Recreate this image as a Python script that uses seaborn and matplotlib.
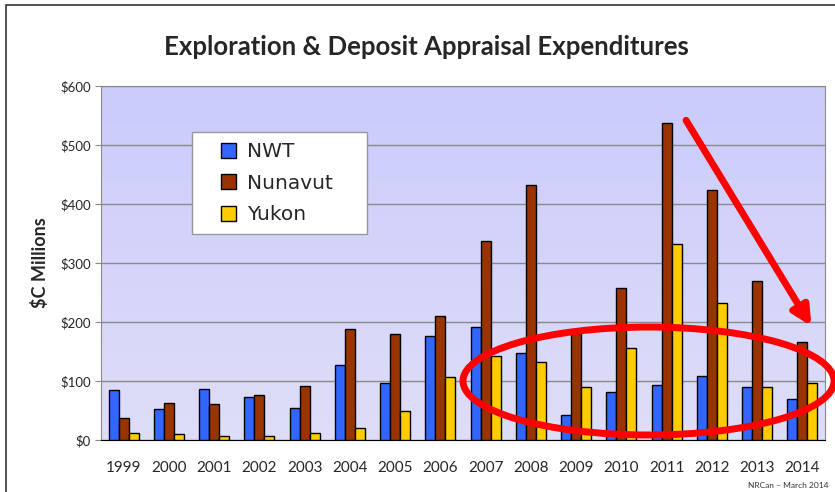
"""
Exploration & Deposit Appraisal Expenditures - NWT / Nunavut / Yukon
"""

import numpy as np
import pandas as pd
import matplotlib
matplotlib.use("Agg")
import matplotlib.pyplot as plt
from matplotlib.colors import LinearSegmentedColormap
from matplotlib.patches import Ellipse, Rectangle
from matplotlib.ticker import FuncFormatter, FixedLocator
import seaborn as sns

# ── Data ───────────────────────────────────────────────────────────────────────

years   = ["1999", "2000", "2001", "2002", "2003", "2004", "2005", "2006",
           "2007", "2008", "2009", "2010", "2011", "2012", "2013", "2014"]
nwt     = [84, 52, 87, 73, 54, 127, 97, 176, 192, 147, 42, 81, 93, 109, 90, 70]
nunavut = [38, 63, 61, 76, 92, 188, 179, 210, 337, 433, 187, 257, 537, 423, 269, 166]
yukon   = [12, 10, 6, 6, 12, 21, 49, 106, 143, 133, 90, 156, 332, 233, 90, 97]

regions = ["NWT", "Nunavut", "Yukon"]
colors  = {"NWT": "#3366FF", "Nunavut": "#993300", "Yukon": "#FFCC00"}

df = pd.DataFrame({"year": years, "NWT": nwt, "Nunavut": nunavut, "Yukon": yukon})
long = df.melt(id_vars="year", var_name="region", value_name="spend")

# ── Plot ───────────────────────────────────────────────────────────────────────

sns.set_style("white")
plt.rcParams["font.family"] = ["Lato", "DejaVu Sans"]

fig = plt.figure(figsize=(8.35, 4.92), dpi=100)
ax = fig.add_axes([0.121, 0.1057, 0.867, 0.7193])

sns.barplot(data=long, x="year", y="spend", hue="region", hue_order=regions,
            palette=colors, width=0.66, edgecolor="black", linewidth=1,
            saturation=1, ax=ax, zorder=3)

# lavender gradient background
cmap = LinearSegmentedColormap.from_list("bg", ["#DEDEF8", "#CBCBFD"])
ax.imshow(np.linspace(0, 1, 256).reshape(-1, 1), cmap=cmap, origin="lower",
          extent=[-0.5, len(years) - 0.5, 0, 600], aspect="auto", zorder=0)
ax.set_xlim(-0.5, len(years) - 0.5)
ax.set_ylim(0, 600)

ax.set_axisbelow(True)
ax.yaxis.grid(True, color="#8A8A8A", linewidth=1)
ax.xaxis.grid(False)
ax.yaxis.set_major_formatter(FuncFormatter(lambda v, _: f"${v:.0f}"))
ax.set_yticks(range(0, 601, 100))

ax.xaxis.set_minor_locator(FixedLocator(np.arange(-0.5, len(years), 1)))
ax.tick_params(axis="x", which="major", length=0, pad=15, labelsize=11)
ax.tick_params(axis="x", which="minor", length=5, color="black", width=1)
ax.tick_params(axis="y", length=4, color="#888888", labelsize=9.5, left=True)

for side in ["left", "top", "right"]:
    ax.spines[side].set_color("#8A8A8A")
ax.spines["bottom"].set_color("black")

ax.set_xlabel("")
ax.set_ylabel("$C Millions", fontsize=13, fontweight="bold", labelpad=8)
fig.suptitle("Exploration & Deposit Appraisal Expenditures",
             fontsize=18.5, fontweight="bold", x=0.511, y=0.905, va="center")

# legend: white box drawn by hand so it can be wider than its entries
ax.add_patch(Rectangle((0.126, 0.582), 0.242, 0.288, transform=ax.transAxes,
                       facecolor="white", edgecolor="#999999", linewidth=1,
                       zorder=7))
leg = ax.legend(loc="upper left", bbox_to_anchor=(0.166, 0.841), frameon=False,
                prop={"family": "DejaVu Sans", "size": 14.5},
                handlelength=0.75, handleheight=0.75, handletextpad=0.55,
                labelspacing=0.62, borderpad=0, borderaxespad=0)
leg.set_zorder(8)
for h in leg.legend_handles:
    h.set_edgecolor("black")
    h.set_linewidth(1)

# highlight ellipse and downward arrow
ax.add_patch(Ellipse((11.6, 100), 8.2, 183, fill=False, edgecolor="red",
                     linewidth=5, zorder=5, clip_on=False))
ax.annotate("", xy=(15.2, 193), xytext=(12.43, 542), annotation_clip=False,
            arrowprops=dict(arrowstyle="-|>", color="red", lw=5,
                            mutation_scale=28, shrinkA=0, shrinkB=0), zorder=6)

fig.text(0.992, 0.006, "NRCan \u2013 March 2014", fontsize=6, ha="right",
         va="bottom", color="#333333")

fig.patches.append(Rectangle((0.007, -0.1), 1.2, 1.09, transform=fig.transFigure,
                             fill=False, edgecolor="#333333", linewidth=1.2))

fig.savefig("out.png", dpi=100)
plt.close(fig)
